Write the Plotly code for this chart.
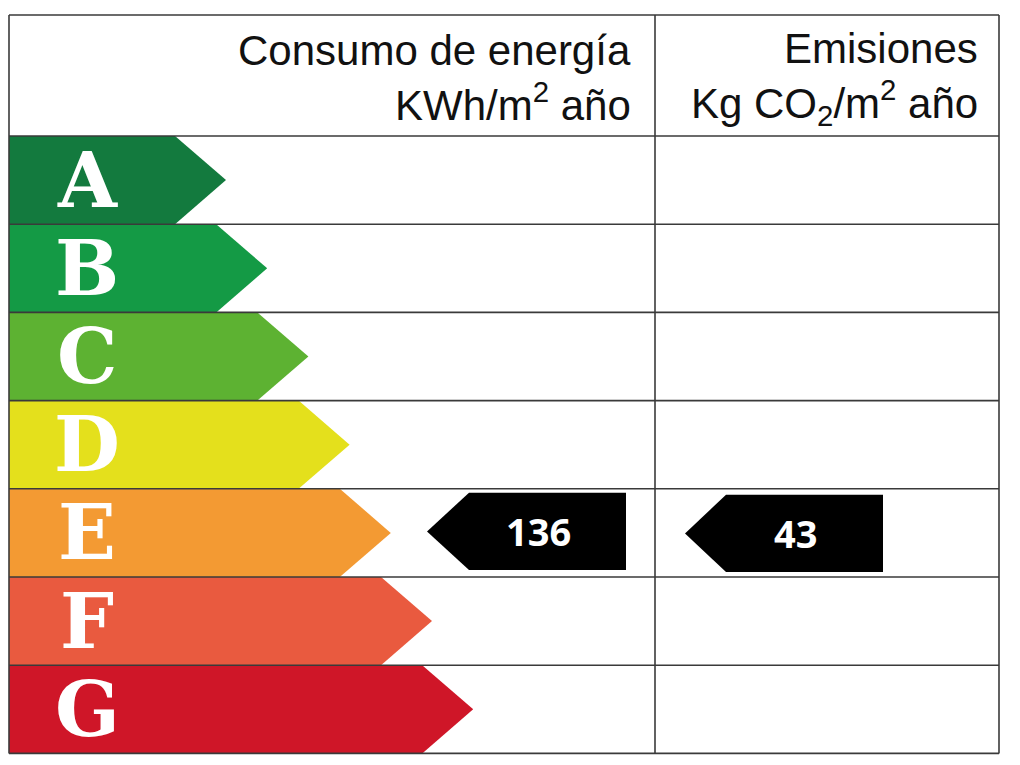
import plotly.graph_objects as go

# ---------------- data ----------------
classes = ["A", "B", "C", "D", "E", "F", "G"]
energy_value = 136
energy_class = "E"
emission_value = 43
emission_class = "E"
header_energy = ["Consumo de energía", "KWh/m<sup>2</sup> año"]
header_emission = ["Emisiones", "Kg CO<sub>2</sub>/m<sup>2</sup> año"]

# ---------------- style / layout ----------------
class_colors = ["#137a3e", "#149a45", "#5db232", "#e4e01c", "#f39a33", "#e95a3f", "#cf1628"]
W, H = 1020, 765
left, right, mid = 9, 999, 655
top, header_bottom, row_h = 15, 136, 88.2
tip_first, tip_step, tip_len = 226, 41.2, 51
grid_color = "#3a3a3a"

fig = go.Figure()

def row_bounds(i):
    t = header_bottom + i * row_h
    return t, t + row_h

# class arrows
for i, (c, col) in enumerate(zip(classes, class_colors)):
    t, b = row_bounds(i)
    tip = tip_first + tip_step * i
    xs = [left, tip - tip_len, tip, tip - tip_len, left, left]
    ys = [t, t, (t + b) / 2, b, b, t]
    fig.add_trace(go.Scatter(x=xs, y=ys, mode="lines", fill="toself",
                             fillcolor=col, line=dict(width=0, color=col),
                             hoverinfo="skip", showlegend=False))
    fig.add_annotation(x=87, y=(t + b) / 2, text=c, showarrow=False,
                       xanchor="center", yanchor="middle",
                       font=dict(family="DejaVu Serif", size=76, color="white", weight="bold"))

# indicator arrows
def indicator(value, cls, x_tip, x_body, x_right, inset_t, inset_b, tx):
    i = classes.index(cls)
    t, b = row_bounds(i)
    t += inset_t
    b -= inset_b
    ym = (t + b) / 2
    xs = [x_tip, x_body, x_right, x_right, x_body, x_tip]
    ys = [ym, t, t, b, b, ym]
    fig.add_trace(go.Scatter(x=xs, y=ys, mode="lines", fill="toself",
                             fillcolor="black", line=dict(width=0, color="black"),
                             hoverinfo="skip", showlegend=False))
    fig.add_annotation(x=tx, y=ym, text=str(value), showarrow=False,
                       xanchor="center", yanchor="middle",
                       font=dict(family="Open Sans", size=38, color="white", weight="bold"))

indicator(energy_value, energy_class, 427, 469, 626, 4, 7, 538)
indicator(emission_value, emission_class, 685, 726, 883, 6, 5, 795)

# header texts
hdr_font = dict(family="Liberation Sans", size=42, color="#111111")
for k, txt in enumerate(header_energy):
    fig.add_annotation(x=633, y=[50, 102][k], text=txt, showarrow=False,
                       xanchor="right", yanchor="middle", font=hdr_font)
for k, txt in enumerate(header_emission):
    fig.add_annotation(x=980, y=[48, 102][k], text=txt, showarrow=False,
                       xanchor="right", yanchor="middle", font=hdr_font)

# grid lines
line_style = dict(color=grid_color, width=1.6)
ys_lines = [top, header_bottom] + [row_bounds(i)[1] for i in range(len(classes))]
for y in ys_lines:
    fig.add_shape(type="line", x0=left, x1=right, y0=y, y1=y, line=line_style, layer="above")
bottom = ys_lines[-1]
for x in [left, mid, right]:
    fig.add_shape(type="line", x0=x, x1=x, y0=top, y1=bottom, line=line_style, layer="above")

fig.update_layout(
    width=W, height=H, margin=dict(l=0, r=0, t=0, b=0),
    paper_bgcolor="white", plot_bgcolor="white",
    xaxis=dict(range=[0, W], visible=False, fixedrange=True),
    yaxis=dict(range=[H, 0], visible=False, fixedrange=True),
    showlegend=False,
)

fig.write_html("out.html")
